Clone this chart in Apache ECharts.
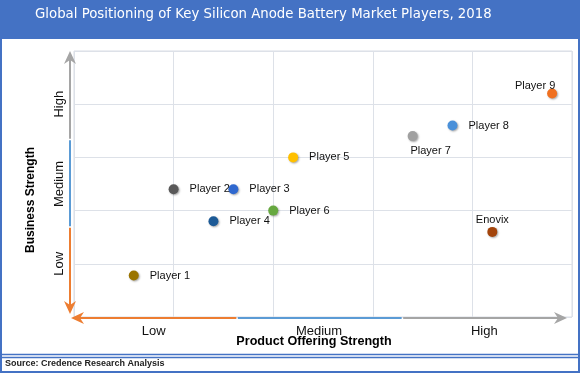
<!DOCTYPE html>
<html>
<head>
<meta charset="utf-8">
<script src="https://cdn.jsdelivr.net/npm/echarts@6/dist/echarts.min.js"></script>
<style>html,body{margin:0;padding:0;background:#fff}#c{width:580px;height:373px}</style>
</head>
<body>
<div id="c"></div>
<script>
var players = ['Player 1','Player 2','Player 3','Player 4','Player 5','Player 6','Player 7','Player 8','Player 9','Enovix'];
var productStrength = [0.6, 1.0, 1.6, 1.4, 2.2, 2.0, 3.4, 3.8, 4.8, 4.2];
var businessStrength = [0.78, 2.4, 2.4, 1.8, 3.0, 2.0, 3.4, 3.6, 4.2, 1.6];
var colors = ['#9a7400','#595959','#2f68cf','#1c5a96','#ffc000','#66a83f','#a0a0a0','#4a90d9','#f07020','#a3440b'];
var xLevels = ['Low','Medium','High'];
var yLevels = ['Low','Medium','High'];
var yLevelValues = [1, 2.5, 4];

var labelStyle = {
  'Player 7': {position:'bottom', distance:4, offset:[18,0]},
  'Player 9': {position:'top', distance:0, offset:[-17,3]},
  'Enovix': {position:'top', distance:2, offset:[0,1]}
};

var chart = echarts.init(document.getElementById('c'), null, {renderer:'canvas'});
var font = 'Liberation Sans';

var data = players.map(function(n,i){
  var ls = labelStyle[n] || {position:'right', distance:11, offset:[0,0]};
  return {
    name:n, value:[productStrength[i], businessStrength[i]],
    itemStyle:{color:colors[i], opacity:1, shadowBlur:2, shadowColor:'rgba(0,0,0,0.35)', shadowOffsetY:1, shadowOffsetX:1},
    label:{show:true, formatter:n, position:ls.position, distance:ls.distance, offset:ls.offset,
      color:'#111', fontSize:11, fontFamily:font}
  };
});

var AX = 70, AYT = 51, AYB = 314, AY = 318, AXL = 71, AXR = 567;
var orange = '#ed7d31', blue = '#5b9bd5', gray = '#a5a5a5';
function seg(x1,y1,x2,y2,c){return {type:'line', z:5, shape:{x1:x1,y1:y1,x2:x2,y2:y2}, style:{stroke:c, lineWidth:2}};}
function head(pts,c){return {type:'polygon', z:5, shape:{points:pts}, style:{fill:c}};}
var ySeg1 = AYT + (AYB-AYT)/3, ySeg2 = AYT + 2*(AYB-AYT)/3;
var xSeg1 = AXL + (AXR-AXL)/3, xSeg2 = AXL + 2*(AXR-AXL)/3;

var option = {
  animation:false,
  title:{text:'Global Positioning of Key Silicon Anode Battery Market Players, 2018', left:30, top:3.5,
    textStyle:{color:'#ffffff', fontSize:13.3, fontWeight:'normal', fontFamily:'DejaVu Sans'}},
  grid:[
    {left:74, right:8, top:51, bottom:56, show:true, borderColor:'#d8dce5', borderWidth:1},
    {left:71, right:13, top:51, bottom:56}
  ],
  xAxis:[
    {gridIndex:0, type:'value', min:0, max:5, interval:1, axisLine:{show:false}, axisTick:{show:false},
      axisLabel:{show:false}, splitLine:{lineStyle:{color:'#dde1e8', width:1}}},
    {gridIndex:1, type:'category', data:xLevels, axisLine:{show:false}, axisTick:{show:false},
      axisLabel:{margin:8, fontSize:13, color:'#111', fontFamily:font}, splitLine:{show:false}}
  ],
  yAxis:[
    {gridIndex:0, type:'value', min:0, max:5, interval:1, axisLine:{show:false}, axisTick:{show:false},
      axisLabel:{show:false}, splitLine:{lineStyle:{color:'#dde1e8', width:1}}},
    {gridIndex:0, type:'value', min:0, max:5, interval:0.5, position:'left', axisLine:{show:false}, axisTick:{show:false},
      splitLine:{show:false},
      axisLabel:{rotate:90, margin:8, fontSize:13, color:'#111', fontFamily:font, showMinLabel:true, showMaxLabel:true,
        formatter:function(v){for(var i=0;i<yLevelValues.length;i++){if(Math.abs(v-yLevelValues[i])<1e-6)return yLevels[i];}return '';}}},
    {gridIndex:1, type:'value', show:false, min:0, max:1}
  ],
  series:[{type:'scatter', xAxisIndex:0, yAxisIndex:0, symbolSize:10, data:data}],
  graphic:[
    {type:'rect', z:-10, shape:{x:0,y:0,width:580,height:39}, style:{fill:'#4472c4'}},
    {type:'rect', z:10, shape:{x:1,y:1,width:578,height:371}, style:{fill:'none', stroke:'#4472c4', lineWidth:2}},
    {type:'line', z:10, shape:{x1:0,y1:354.5,x2:580,y2:354.5}, style:{stroke:'#4472c4', lineWidth:1.5}},
    {type:'line', z:10, shape:{x1:0,y1:357.5,x2:580,y2:357.5}, style:{stroke:'#4472c4', lineWidth:1.5}},
    {type:'text', z:10, left:5, top:359, style:{text:'Source: Credence Research Analysis', fill:'#222', font:'bold 9px "Liberation Sans"'}},
    {type:'text', z:10, x:31, y:200, rotation:Math.PI/2, style:{text:'Business Strength', fill:'#000', font:'bold 12px "Liberation Sans"', textAlign:'center', textVerticalAlign:'middle'}},
    {type:'text', z:10, x:314, y:342, style:{text:'Product Offering Strength', fill:'#000', font:'bold 12.6px "Liberation Sans"', textAlign:'center', textVerticalAlign:'middle'}},
    seg(AX, AYT+8, AX, ySeg1, gray), seg(AX, ySeg1+1.5, AX, ySeg2, blue), seg(AX, ySeg2+1.5, AX, AYB-8, orange),
    head([[AX,AYT],[AX-6,AYT+13],[AX,AYT+9],[AX+6,AYT+13]], gray),
    head([[AX,AYB],[AX-6,AYB-13],[AX,AYB-9],[AX+6,AYB-13]], orange),
    seg(AXL+8, AY, xSeg1, AY, orange), seg(xSeg1+1.5, AY, xSeg2, AY, blue), seg(xSeg2+1.5, AY, AXR-8, AY, gray),
    head([[AXL,AY],[AXL+13,AY-6],[AXL+9,AY],[AXL+13,AY+6]], orange),
    head([[AXR,AY],[AXR-13,AY-6],[AXR-9,AY],[AXR-13,AY+6]], gray)
  ]
};
chart.setOption(option);
</script>
</body>
</html>
